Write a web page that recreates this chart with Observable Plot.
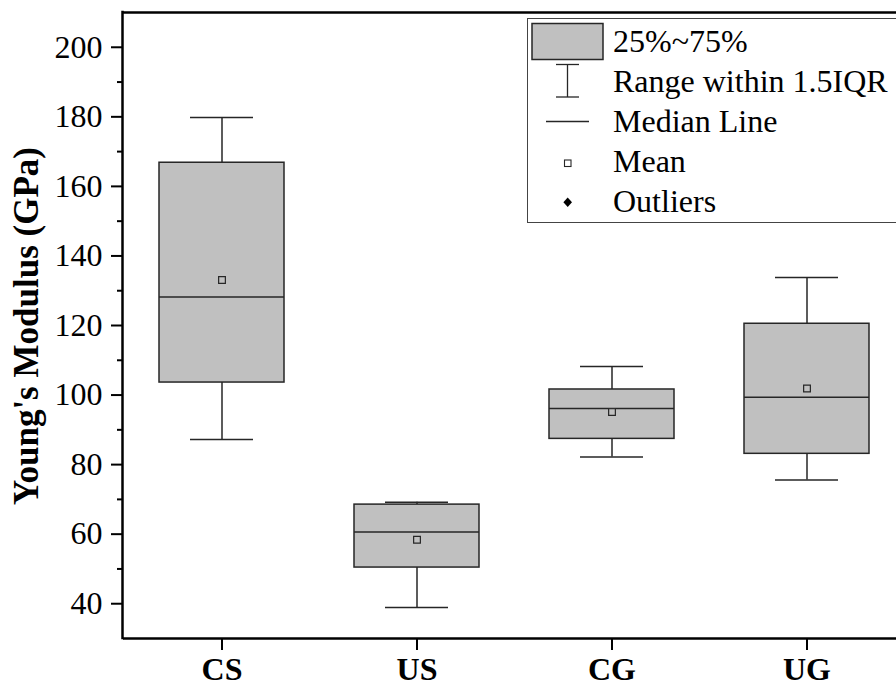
<!DOCTYPE html>
<html><head><meta charset="utf-8">
<script src="https://cdn.jsdelivr.net/npm/d3@7"></script>
<script src="https://cdn.jsdelivr.net/npm/@observablehq/plot@0.6"></script>
<style>body{margin:0;background:#fff} #chart{width:896px;height:688px}</style>
</head><body><div id="chart"></div>
<script>
const categories = ["CS", "US", "CG", "UG"];
const whiskerLow = [87.2, 38.9, 82.2, 75.6];
const q1 = [103.6, 50.4, 87.4, 83.1];
const median = [128.2, 60.6, 96.1, 99.4];
const q3 = [166.8, 68.5, 101.6, 120.5];
const whiskerHigh = [179.8, 69.2, 108.2, 133.8];
const mean = [133.1, 58.4, 95.1, 101.9];
const majorTicks = [40, 60, 80, 100, 120, 140, 160, 180, 200];
const minorTicks = [50, 70, 90, 110, 130, 150, 170, 190];
const yTitle = "Young's Modulus (GPa)";
const legendLabels = ["25%~75%", "Range within 1.5IQR", "Median Line", "Mean", "Outliers"];

const data = categories.map((c, i) => ({cat: c, lo: whiskerLow[i], q1: q1[i], med: median[i], q3: q3[i], hi: whiskerHigh[i], mean: mean[i]}));
const stroke = "#262626";
const font = "'Liberation Serif','Times New Roman',serif";

const chart = Plot.plot({
  width: 896, height: 688,
  marginTop: 12, marginBottom: 50, marginLeft: 123, marginRight: 0,
  style: {fontFamily: font, background: "white", color: "black"},
  x: {type: "band", domain: categories, range: [123, 904], paddingInner: 0.36, paddingOuter: 0.18},
  y: {domain: [30, 210]},
  marks: [
    Plot.ruleX(data, {x: "cat", y1: "lo", y2: "q1", stroke, strokeWidth: 1.5}),
    Plot.ruleX(data, {x: "cat", y1: "q3", y2: "hi", stroke, strokeWidth: 1.5}),
    Plot.tickY(data, {x: "cat", y: "lo", inset: 31, stroke, strokeWidth: 1.5}),
    Plot.tickY(data, {x: "cat", y: "hi", inset: 31, stroke, strokeWidth: 1.5}),
    Plot.barY(data, {x: "cat", y1: "q1", y2: "q3", fill: "#c0c0c0", stroke, strokeWidth: 1.5}),
    Plot.tickY(data, {x: "cat", y: "med", stroke, strokeWidth: 1.5}),
    Plot.dot(data, {x: "cat", y: "mean", symbol: "square", r: 3.8, fill: "#c0c0c0", stroke, strokeWidth: 1.2}),
    Plot.axisY({ticks: majorTicks, tickSize: 12, tickPadding: 9, fontSize: 32, label: null, strokeWidth: 2, tickFormat: d => String(d)}),
    Plot.axisY({ticks: minorTicks, tickSize: 6, label: null, strokeWidth: 2, tickFormat: () => ""}),
    Plot.axisX({tickSize: 12, tickPadding: 7, fontSize: 32, fontWeight: "bold", label: null, strokeWidth: 2}),
    Plot.ruleY([30], {stroke: "black", strokeWidth: 2.5}),
    Plot.ruleY([210], {stroke: "black", strokeWidth: 2.5})
  ]
});
document.getElementById("chart").append(chart);

const svg = d3.select(chart);
const ys = chart.scale("y");
// left axis line
svg.append("line").attr("x1", 122.5).attr("x2", 122.5)
  .attr("y1", ys.apply(210) - 1.25).attr("y2", ys.apply(30) + 1.25)
  .attr("stroke", "black").attr("stroke-width", 2.5);

// y title
svg.append("text").attr("transform", `translate(38,326) rotate(-90)`)
  .attr("text-anchor", "middle").attr("font-family", font).attr("font-weight", "bold")
  .attr("font-size", 35).attr("fill", "black").text(yTitle);

// legend
const g = svg.append("g").attr("font-family", font).attr("font-size", 32).attr("fill", "black").attr("text-anchor", "start");
g.append("rect").attr("x", 527.5).attr("y", 18.5).attr("width", 420).attr("height", 204)
  .attr("fill", "white").attr("stroke", "#444").attr("stroke-width", 1);
g.append("rect").attr("x", 532).attr("y", 23.5).attr("width", 71).attr("height", 36)
  .attr("fill", "#c0c0c0").attr("stroke", stroke).attr("stroke-width", 1.5);
g.append("line").attr("x1", 567.5).attr("x2", 567.5).attr("y1", 64.5).attr("y2", 97).attr("stroke", stroke).attr("stroke-width", 1.3);
g.append("line").attr("x1", 556).attr("x2", 579).attr("y1", 64.5).attr("y2", 64.5).attr("stroke", stroke).attr("stroke-width", 1.3);
g.append("line").attr("x1", 556).attr("x2", 579).attr("y1", 97).attr("y2", 97).attr("stroke", stroke).attr("stroke-width", 1.3);
g.append("line").attr("x1", 546).attr("x2", 589).attr("y1", 121.5).attr("y2", 121.5).attr("stroke", stroke).attr("stroke-width", 1.3);
g.append("rect").attr("x", 564.5).attr("y", 160).attr("width", 6.5).attr("height", 6.5).attr("fill", "white").attr("stroke", stroke).attr("stroke-width", 1.1);
g.append("path").attr("d", "M567.7,197.5 L572,202.3 L567.7,207 L563.4,202.3 Z").attr("fill", "black");
legendLabels.forEach((t, i) => {
  g.append("text").attr("x", 613).attr("y", 52 + 40 * i).attr("text-anchor", "start").text(t);
});
</script>
</body></html>
